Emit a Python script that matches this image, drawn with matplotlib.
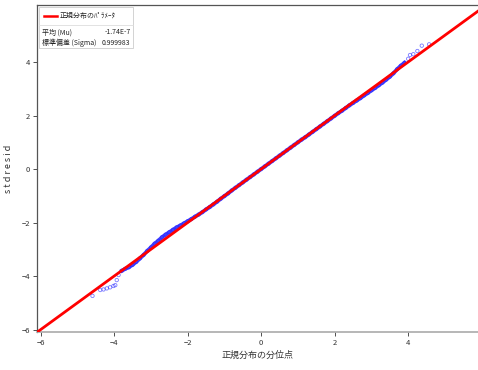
import matplotlib
matplotlib.use('Agg')
import matplotlib.pyplot as plt
from matplotlib.patches import Rectangle
from matplotlib.lines import Line2D

plt.rcParams['font.family'] = ['Noto Sans CJK JP', 'DejaVu Sans']

# 正規分布の分位点 (theoretical quantiles) と stdresid (sample values)
quantiles = [-4.59, -4.38, -4.29, -4.20, -4.11, -4.02, -3.97, -3.93, -3.88, -3.79,
             -3.7, -3.6, -3.5, -3.4, -3.3, -3.2, -3.1, -3.0, -2.9, -2.8,
             -2.7, -2.6, -2.5, -2.4, -2.3, -2.2, -2.1, -2.0, -1.9, -1.8,
             -1.7, -1.6, -1.5, -1.4, -1.3, -1.2, -1.1, -1.0, -0.9, -0.8,
             -0.7, -0.6, -0.5, -0.4, -0.3, -0.2, -0.1, 0.0, 0.1, 0.2,
             0.3, 0.4, 0.5, 0.6, 0.7, 0.8, 0.9, 1.0, 1.1, 1.2,
             1.3, 1.4, 1.5, 1.6, 1.7, 1.8, 1.9, 2.0, 2.1, 2.2,
             2.3, 2.4, 2.5, 2.6, 2.7, 2.8, 2.9, 3.0, 3.1, 3.2,
             3.3, 3.4, 3.5, 3.6, 3.7, 3.8, 3.9,
             4.00, 4.05, 4.14, 4.25, 4.37, 4.57]
stdresid = [-4.74, -4.52, -4.50, -4.46, -4.42, -4.37, -4.34, -4.15, -3.96, -3.80,
            -3.73, -3.67, -3.58, -3.47, -3.34, -3.21, -3.06, -2.93, -2.79, -2.68,
            -2.55, -2.45, -2.36, -2.27, -2.18, -2.11, -2.03, -1.95, -1.87, -1.78,
            -1.70, -1.61, -1.51, -1.42, -1.32, -1.22, -1.11, -1.01, -0.91, -0.80,
            -0.70, -0.60, -0.50, -0.40, -0.30, -0.20, -0.10, 0.00, 0.10, 0.20,
            0.30, 0.40, 0.50, 0.60, 0.70, 0.80, 0.90, 1.00, 1.10, 1.19,
            1.29, 1.39, 1.49, 1.59, 1.69, 1.79, 1.89, 1.99, 2.09, 2.18,
            2.28, 2.38, 2.47, 2.56, 2.65, 2.75, 2.84, 2.94, 3.03, 3.13,
            3.23, 3.34, 3.45, 3.58, 3.73, 3.86, 3.97,
            4.12, 4.26, 4.29, 4.41, 4.61, 4.66]

mu = -1.74e-7
sigma = 0.999983
line_x = [-6.1, 5.95]
ticks = [-6, -4, -2, 0, 2, 4]

fig = plt.figure(figsize=(4.78, 3.70), dpi=100)
ax = fig.add_axes([37 / 478, 38 / 370, 441 / 478, 327 / 370])

blue = '#2020ff'
# dense middle part looks like a thick band
ax.plot(quantiles[9:-6], stdresid[9:-6], color=blue, lw=2.8, alpha=0.85, zorder=2)
ax.scatter(quantiles, stdresid, s=6, facecolors='none', edgecolors=blue,
           linewidths=0.6, alpha=0.6, zorder=2)
ax.plot(line_x, [mu + sigma * v for v in line_x], color='red', lw=2, zorder=3)

ax.set_xlim(-6.1, 5.9)
ax.set_ylim(-6.09, 6.13)
ax.set_xticks(ticks)
ax.set_yticks(ticks)
ax.tick_params(labelsize=5.5, length=3, width=0.6, colors='#333333', pad=2)
for s in ['top', 'left']:
    ax.spines[s].set_color('#555555')
    ax.spines[s].set_linewidth(0.9)
ax.spines['bottom'].set_color('#aaaaaa')
ax.spines['bottom'].set_linewidth(1.2)
ax.spines['right'].set_visible(False)

ax.set_xlabel('正規分布の分位点', fontsize=6.5, color='#333333', labelpad=3)
ax.set_ylabel('s t d r e s i d', fontsize=6.5, color='#333333', labelpad=6)

# パラメータの凡例ボックス
ax.add_patch(Rectangle((0.005, 0.868), 0.213, 0.126, transform=ax.transAxes,
                       facecolor='white', edgecolor='#cccccc', lw=0.6, zorder=5))
ax.add_line(Line2D([0.016, 0.045], [0.966, 0.966], transform=ax.transAxes,
                   color='red', lw=1.8, zorder=6))
ax.text(0.052, 0.966, '正規分布のﾊﾟﾗﾒｰﾀ', transform=ax.transAxes, fontsize=5,
        va='center', ha='left', zorder=6, color='#222222')
ax.add_line(Line2D([0.005, 0.218], [0.939, 0.939], transform=ax.transAxes,
                   color='#dddddd', lw=0.6, zorder=6))
rows = [('平均 (Mu)', '-1.74E-7'), ('標準偏差 (Sigma)', '0.999983')]
for i, (name, val) in enumerate(rows):
    yy = 0.917 - i * 0.033
    ax.text(0.012, yy, name, transform=ax.transAxes, fontsize=5, va='center',
            ha='left', zorder=6, color='#222222')
    ax.text(0.212, yy, val, transform=ax.transAxes, fontsize=5, va='center',
            ha='right', zorder=6, color='#222222')

fig.savefig('out.png', dpi=100)
